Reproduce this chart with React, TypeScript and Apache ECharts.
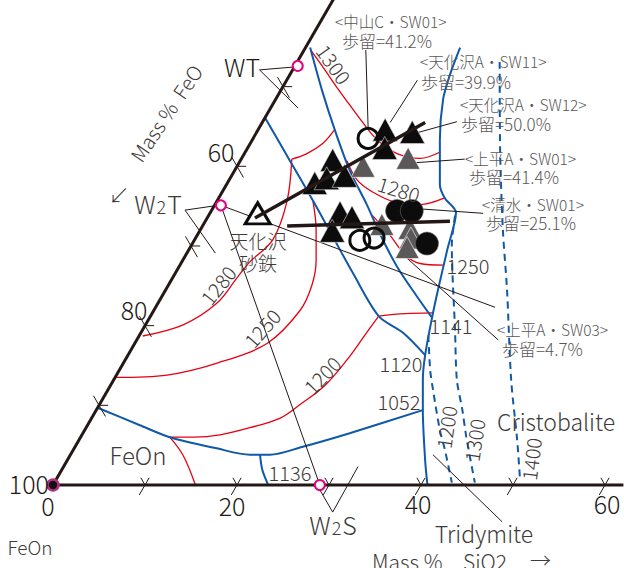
import React, { useEffect, useRef } from 'react';
import * as echarts from 'echarts';

// Ternary data: every point is [SiO2 mass%, FeO mass%]; third component = 100 - SiO2 - FeO
const FRAME_LEFT = [[0, 100], [0, 39]];
const FRAME_BOTTOM = [[0, 100], [62, 38]];
const BOTTOM_TICKS = [10, 20, 30, 40, 50, 60];
const LEFT_TICKS = [50, 60, 70, 80, 90];

// isotherms (red)
const ISO_1300 = [[0.7, 44.7], [3.5, 44.4], [5.9, 44.2], [8.4, 43.9], [10.8, 43.6], [13.6, 43.1], [16.6, 41.8], [19.4, 39.6], [21.2, 37.0]];
const ISO_1280_A = [[0.4, 80.9], [4.1, 75.8], [6.4, 70.8], [7.0, 67.0], [7.4, 64.6], [8.5, 60.7], [7.6, 56.7], [5.5, 53.6]];
const ISO_1280_B = [[5.5, 53.6], [6.8, 51.6], [7.9, 49.2], [8.3, 47.2]];
const ISO_1280_C = [[11.6, 47.7], [13.9, 47.8], [16.3, 46.9], [19.4, 45.1], [22.3, 42.5], [24.5, 39.5]];
const ISO_1250_A = [[10.4, 53.9], [12.6, 55.4], [14.5, 57.3], [15.6, 59.3], [15.9, 62.2], [14.4, 67.8], [10.2, 74.5], [5.5, 80.7], [0.1, 86.4]];
const ISO_1250_B = [[17.7, 48.4], [20.9, 47.7], [23.8, 47.3], [26.0, 46.2], [28.6, 43.8]];
const ISO_1200_A = [[24.8, 54.0], [24.5, 56.7], [24.1, 60.2], [23.3, 64.2], [21.8, 68.1], [20.5, 71.1], [17.8, 75.0], [15.0, 78.7], [12.4, 81.6], [9.7, 84.3]];
const ISO_1200_B = [[9.7, 84.3], [12.3, 84.0], [15.4, 84.5]];
const ISO_1200_C = [[24.8, 54.0], [27.5, 51.0], [30.4, 48.0]];

// phase boundaries (blue)
const BND_1 = [[0.0, 53.9], [5.4, 53.9], [10.4, 53.9], [14.9, 54.0], [19.3, 54.1], [24.8, 54.0], [28.5, 52.4], [32.3, 51.4]];
const BND_2 = [[0.5, 44.6], [4.5, 46.0], [8.4, 47.1], [12.5, 48.0], [16.6, 48.3], [19.7, 48.7], [23.7, 48.9], [27.8, 48.6], [30.7, 48.3]];
const BND_3 = [[16.8, 28.3], [17.4, 31.1], [18.2, 33.4], [20.4, 36.3], [23.2, 39.1], [24.6, 39.4], [26.7, 39.1], [28.1, 42.4], [29.6, 45.9], [30.7, 48.3], [32.3, 51.4], [33.6, 53.2], [35.5, 55.1], [38.9, 58.0], [40.7, 59.3]];
const BND_4 = [[0.0, 90.3], [5.7, 86.8], [9.7, 84.3], [15.5, 79.9], [19.5, 76.7], [21.7, 74.5], [24.5, 70.8], [29.0, 64.5], [35.5, 55.1]];
const BND_5 = [[20.6, 75.6], [21.8, 76.3], [23.3, 76.6]];

// silica liquidus isotherms (blue dashed)
const LIQ_1200 = [[31.4, 49.8], [33.8, 51.8], [35.3, 52.7], [38.6, 54.5], [40.4, 55.2], [43.2, 56.5]];
const LIQ_1300 = [[26.8, 39.4], [28.3, 41.6], [34.0, 46.6], [37.3, 49.5], [39.8, 50.8], [41.8, 52.0], [45.7, 54.0]];
const LIQ_1400 = [[22.0, 24.9], [27.6, 30.4], [32.9, 35.1], [37.1, 38.4], [43.2, 43.6], [47.6, 46.7], [50.3, 48.8]];

// tie lines & trend lines
const TIE_W2T_W2S = [[0.7, 64.2], [29.0, 71.0]];
const TIE_W2T_B = [[0.7, 64.2], [36.9, 40.8]];
const THICK_1 = [[5.2, 61.3], [17.7, 36.8]];
const THICK_2 = [[9.2, 58.3], [26.6, 40.3]];

// leader lines of labels
const LEADERS = [
  [[6.7, 38.7], [11.8, 43.3]],
  [[14.2, 35.0], [13.9, 40.6]],
  [[21.1, 33.3], [16.4, 39.8]],
  [[24.3, 34.8], [18.6, 41.0]],
  [[29.7, 36.2], [22.0, 43.3]],
  [[39.3, 42.5], [23.9, 47.4]],
  [[0.3, 47.2], [-3.6, 51.5], [3.0, 49.7]],
  [[0.4, 64.5], [-2.9, 68.4], [3.1, 67.8]],
  [[29.3, 71.3], [32.1, 71.3], [32.0, 65.7]],
  [[39.4, 56.8], [51.1, 53.5]],
];

// sample points
const BLACK_TRIANGLES = [[10.0, 49.2], [9.5, 52.6], [10.5, 51.0], [12.3, 48.9], [14.1, 51.7], [15.7, 50.7], [14.4, 53.7], [13.8, 41.6], [16.9, 38.8], [14.9, 42.8]];
const GRAY_TRIANGLES = [[13.7, 46.3], [18.1, 40.9], [19.4, 47.9], [22.7, 45.1], [23.4, 45.6], [23.6, 46.6]];
const BLACK_CIRCLES = [[20.2, 45.4], [21.8, 43.8], [25.5, 44.2]];
const OPEN_CIRCLES = [[12.5, 44.0], [18.0, 51.3], [19.4, 49.6]];
const OPEN_TRIANGLE = [[5.2, 60.7]];
const COMPOUNDS = [[0.3, 47.1], [0.7, 64.2], [29.0, 71.0]];
const FEO_CORNER = [[0, 100]];

const DARK = '#231815';
const GRAYTXT = '#595757';
const BLUE = '#1058a8';
const RED = '#e60012';
const MAGENTA = '#e4007f';
const FONT = '"Noto Sans CJK JP", "Noto Sans", sans-serif';

const S3 = Math.sqrt(3) / 2;
const toXY = (p: number[]) => {
  const s = p[0];
  const t = 100 - p[0] - p[1];
  return [s + t / 2, t * S3];
};

const line = (pts: number[][], color: string, width: number, opt: any = {}) => ({
  type: 'line',
  data: pts.map(toXY),
  showSymbol: false,
  symbol: 'none',
  clip: false,
  silent: true,
  smooth: opt.smooth ?? 0,
  z: opt.z ?? 2,
  lineStyle: { color, width, type: opt.dash ? [7, 5] : 'solid', cap: 'butt' },
});

const tickSegs = () => {
  const segs: number[][][] = [];
  BOTTOM_TICKS.forEach((s) => {
    segs.push([[s, 100 - s + 1.25], [s, 100 - s - 0.9]]);
    segs.push([[s, 100 - s], [s - 0.9, 100 - s]]);
  });
  LEFT_TICKS.forEach((F) => {
    segs.push([[-1.2, F], [1.4, F]]);
    segs.push([[0, F], [1.0, F - 1.0]]);
  });
  return segs;
};

type T = { t: string; x: number; y: number; size?: number; rot?: number; c?: string; align?: string; rich?: boolean };
const TEXTS: T[] = [
  { t: '100', x: 49, y: 483, size: 25, align: 'right' },
  { t: '0', x: 48, y: 505, size: 25 },
  { t: '20', x: 232, y: 505, size: 25 },
  { t: '40', x: 418, y: 503, size: 25 },
  { t: '60', x: 607, y: 503, size: 25 },
  { t: '80', x: 134, y: 309, size: 25 },
  { t: '60', x: 221, y: 151, size: 25 },
  { t: 'WT', x: 242, y: 66, size: 25 },
  { t: '{a|W}{b|2}{a|T}', x: 158, y: 203, size: 25, rich: true },
  { t: '{a|W}{b|2}{a|S}', x: 333, y: 524, size: 25, rich: true },
  { t: 'FeOn', x: 138, y: 454, size: 24, c: '#3e3a39' },
  { t: 'FeOn', x: 30, y: 546, size: 19, c: '#3e3a39' },
  { t: 'Tridymite', x: 484, y: 533, size: 23, c: '#3e3a39' },
  { t: 'Cristobalite', x: 497, y: 421, size: 23, c: '#3e3a39', align: 'left' },
  { t: 'Mass %', x: 372, y: 561, size: 21, c: '#3e3a39', align: 'left' },
  { t: 'SiO2', x: 463, y: 561, size: 21, c: '#3e3a39', align: 'left' },
  { t: '→', x: 530, y: 559, size: 21, c: '#3e3a39', align: 'left' },
  { t: 'Mass %  FeO', x: 166, y: 113, size: 20, rot: 0.98, c: '#3e3a39' },
  { t: '↙', x: 119, y: 194, size: 21, c: '#3e3a39' },
  { t: '1136', x: 290, y: 472, size: 20, c: '#3e3a39' },
  { t: '1052', x: 399, y: 401, size: 20, c: '#3e3a39' },
  { t: '1120', x: 401, y: 363, size: 20, c: '#3e3a39' },
  { t: '1141', x: 451, y: 325, size: 20, c: '#3e3a39' },
  { t: '1250', x: 468, y: 265, size: 20, c: '#3e3a39' },
  { t: '1280', x: 399, y: 189, size: 20, rot: -0.3, c: '#3e3a39' },
  { t: '1300', x: 334, y: 64, size: 20, rot: -0.95, c: '#3e3a39' },
  { t: '1280', x: 218, y: 285, size: 20, rot: 0.9, c: '#3e3a39' },
  { t: '1250', x: 262, y: 328, size: 20, rot: 0.85, c: '#3e3a39' },
  { t: '1200', x: 322, y: 375, size: 20, rot: 0.8, c: '#3e3a39' },
  { t: '1200', x: 446, y: 427, size: 20, rot: 1.42, c: '#3e3a39' },
  { t: '1300', x: 474, y: 440, size: 20, rot: 1.42, c: '#3e3a39' },
  { t: '1400', x: 531, y: 459, size: 20, rot: 1.45, c: '#3e3a39' },
  { t: '天化沢', x: 258, y: 240, size: 19, c: '#3e3a39' },
  { t: '砂鉄', x: 258, y: 262, size: 19, c: '#3e3a39' },
  { t: '<中山C・SW01>', x: 335, y: 21, size: 15.5, c: GRAYTXT, align: 'left' },
  { t: '歩留=41.2%', x: 342, y: 40, size: 17, c: GRAYTXT, align: 'left' },
  { t: '<天化沢A・SW11>', x: 420, y: 61, size: 15.5, c: GRAYTXT, align: 'left' },
  { t: '歩留=39.9%', x: 421, y: 81, size: 17, c: GRAYTXT, align: 'left' },
  { t: '<天化沢A・SW12>', x: 460, y: 104, size: 15.5, c: GRAYTXT, align: 'left' },
  { t: '歩留=50.0%', x: 461, y: 123, size: 17, c: GRAYTXT, align: 'left' },
  { t: '<上平A・SW01>', x: 465, y: 158, size: 15.5, c: GRAYTXT, align: 'left' },
  { t: '歩留=41.4%', x: 469, y: 176, size: 17, c: GRAYTXT, align: 'left' },
  { t: '<清水・SW01>', x: 482, y: 204, size: 15.5, c: GRAYTXT, align: 'left' },
  { t: '歩留=25.1%', x: 486, y: 222, size: 17, c: GRAYTXT, align: 'left' },
  { t: '<上平A・SW03>', x: 497, y: 329, size: 15.5, c: GRAYTXT, align: 'left' },
  { t: '歩留=4.7%', x: 502, y: 348, size: 17, c: GRAYTXT, align: 'left' },
];

export default function App() {
  const ref = useRef<HTMLDivElement>(null);
  useEffect(() => {
    if (!ref.current) return;
    const chart = echarts.init(ref.current, undefined, { renderer: 'svg' });
    const series: any[] = [];
    [ISO_1300, ISO_1280_A, ISO_1280_B, ISO_1280_C, ISO_1250_A, ISO_1250_B, ISO_1200_A, ISO_1200_B, ISO_1200_C].forEach((c) =>
      series.push(line(c, RED, 1.3, { smooth: 0.35 }))
    );
    [BND_1, BND_2, BND_3, BND_4, BND_5].forEach((c) => series.push(line(c, BLUE, 2, { smooth: 0.3, z: 3 })));
    [LIQ_1200, LIQ_1300, LIQ_1400].forEach((c) => series.push(line(c, BLUE, 2, { smooth: 0.3, dash: true, z: 3 })));
    [TIE_W2T_W2S, TIE_W2T_B, ...LEADERS].forEach((c) => series.push(line(c, DARK, 1, { z: 3 })));
    series.push(line(FRAME_LEFT, DARK, 3, { z: 4 }));
    series.push(line(FRAME_BOTTOM, DARK, 3, { z: 4 }));
    tickSegs().forEach((c) => series.push(line(c, DARK, 1, { z: 4 })));
    const sc = (pts: number[][], symbol: string, size: any, itemStyle: any, z = 5) => ({
      type: 'scatter', data: pts.map(toXY), symbol, symbolSize: size, itemStyle, z, clip: false, silent: true,
    });
    series.push(sc(GRAY_TRIANGLES, 'triangle', [24, 22], { color: '#5a5858', borderColor: '#fff', borderWidth: 0.6, opacity: 1 }));
    series.push(sc(BLACK_TRIANGLES, 'triangle', [25, 23], { color: '#0c0c0c', borderColor: '#ddd', borderWidth: 0.6, opacity: 1 }));
    series.push(sc(BLACK_CIRCLES, 'circle', 23, { color: '#0c0c0c', borderColor: '#666', borderWidth: 0.6, opacity: 1 }));
    series.push(sc(OPEN_CIRCLES, 'circle', 20, { color: 'rgba(255,255,255,0)', borderColor: '#0c0c0c', borderWidth: 3, opacity: 1 }));
    series.push(sc(OPEN_TRIANGLE, 'triangle', [25, 21], { color: '#fff', borderColor: '#0c0c0c', borderWidth: 3, opacity: 1 }));
    series.push(line(THICK_1, DARK, 3.5, { z: 6 }));
    series.push(line(THICK_2, DARK, 3.5, { z: 6 }));
    series.push(sc(COMPOUNDS, 'circle', 10, { color: '#fff', borderColor: MAGENTA, borderWidth: 2, opacity: 1 }, 7));
    series.push(sc(FEO_CORNER, 'circle', 11, { color: '#111', borderColor: '#b5317f', borderWidth: 2.5, opacity: 1 }, 7));

    const graphic = TEXTS.map((d) => {
      const size = d.size || 20;
      const style: any = {
        text: d.t,
        fill: d.c || DARK,
        fontSize: size,
        lineHeight: Math.round(size * 0.95),
        fontFamily: FONT,
        fontWeight: 300,
        align: d.align || 'center',
        verticalAlign: 'middle',
      };
      if (d.rich) {
        style.rich = {
          a: { fontSize: size, lineHeight: size, fontFamily: FONT, fontWeight: 300, fill: '#3e3a39', color: '#3e3a39' },
          b: { fontSize: 18, lineHeight: size, fontFamily: FONT, fontWeight: 300, fill: '#3e3a39', color: '#3e3a39', padding: [6, 1, 0, 1] },
        };
      }
      return { type: 'text', x: d.x, y: d.y, rotation: d.rot || 0, silent: true, z: 100, style };
    });

    chart.setOption({
      animation: false,
      backgroundColor: '#ffffff',
      grid: { left: 53, right: 0, top: 0, bottom: 83, containLabel: false },
      xAxis: { type: 'value', min: 0, max: 571 / 9.2, show: false },
      yAxis: { type: 'value', min: 0, max: 485 / 9.2, show: false },
      series,
      graphic,
    });
    return () => chart.dispose();
  }, []);
  return <div ref={ref} style={{ position: 'absolute', left: 0, top: 0, width: 624, height: 568, background: '#fff' }} />;
}
